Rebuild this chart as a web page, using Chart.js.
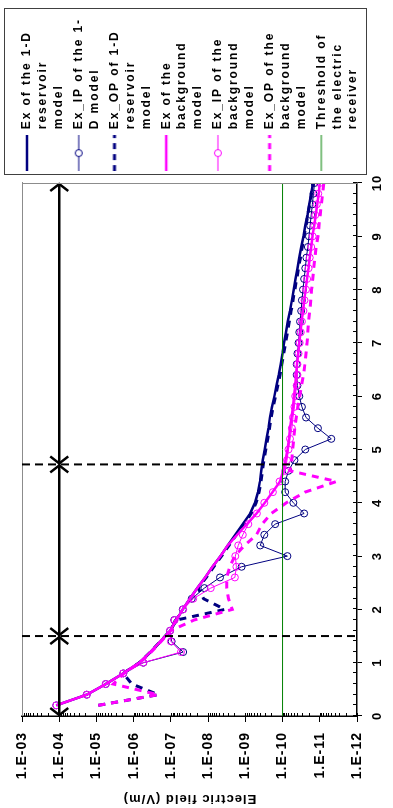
<!DOCTYPE html>
<html>
<head>
<meta charset="utf-8">
<script src="https://cdn.jsdelivr.net/npm/chart.js@4.4.1/dist/chart.umd.min.js"></script>
<style>
  html, body { margin:0; padding:0; background:#fff; overflow:hidden; width:393px; height:808px; }
  #wrap { position:absolute; left:0; top:0; width:808px; height:393px; transform-origin:0 0; transform: translate(0px, 808px) rotate(-90deg); }
</style>
</head>
<body>
<div id="wrap"><canvas id="c" width="808" height="393"></canvas></div>
<script>
// ---------- data ----------
const OFFSETS = [0.2,0.4,0.6,0.8,1.0,1.2,1.4,1.6,1.8,2.0,2.2,2.4,2.6,2.8,3.0,3.2,3.4,3.6,3.8,4.0,4.2,4.4,4.6,4.8,5.0,5.2,5.4,5.6,5.8,6.0,6.2,6.4,6.6,6.8,7.0,7.2,7.4,7.6,7.8,8.0,8.2,8.4,8.6,8.8,9.0,9.2,9.4,9.6,9.8,10.0];

const EX_1D = [1.2e-4,1.82e-5,5.62e-6,1.9e-6,7.08e-7,3.55e-7,1.9e-7,1.05e-7,7.08e-8,4.79e-8,3.09e-8,1.95e-8,1.2e-8,7.59e-9,4.68e-9,2.95e-9,1.86e-9,1.17e-9,7.41e-10,5.5e-10,4.57e-10,4.07e-10,3.72e-10,3.39e-10,3.02e-10,2.69e-10,2.4e-10,2.19e-10,1.91e-10,1.66e-10,1.45e-10,1.26e-10,1.12e-10,1.0e-10,9.12e-11,8.13e-11,7.24e-11,6.31e-11,5.62e-11,5.01e-11,4.47e-11,3.98e-11,3.55e-11,3.16e-11,2.75e-11,2.45e-11,2.14e-11,1.91e-11,1.7e-11,1.51e-11];

const EX_IP_1D = [1.2e-4,1.82e-5,5.62e-6,1.9e-6,5.5e-7,4.68e-8,9.55e-8,1.05e-7,8.13e-8,4.79e-8,2.75e-8,1.26e-8,4.79e-9,1.26e-9,7.41e-11,3.98e-10,3.09e-10,1.58e-10,2.63e-11,5.13e-11,8.51e-11,8.51e-11,6.92e-11,4.79e-11,2.45e-11,4.9e-12,1.12e-11,2.34e-11,3.02e-11,3.55e-11,3.98e-11,4.17e-11,4.17e-11,3.98e-11,3.72e-11,3.55e-11,3.39e-11,3.16e-11,3.02e-11,2.82e-11,2.63e-11,2.45e-11,2.29e-11,2.09e-11,1.95e-11,1.82e-11,1.7e-11,1.58e-11,1.48e-11,1.38e-11];

const EX_OP_1D = [8.91e-6,2.19e-7,1.12e-6,1.9e-6,7.08e-7,3.55e-7,1.9e-7,1.05e-7,7.08e-8,3.55e-9,1.32e-8,1.86e-8,1.12e-8,7.08e-9,4.37e-9,2.75e-9,1.74e-9,1.1e-9,6.92e-10,5.13e-10,4.27e-10,3.8e-10,3.47e-10,3.16e-10,2.82e-10,2.51e-10,2.24e-10,2.04e-10,1.78e-10,1.55e-10,1.35e-10,1.17e-10,1.05e-10,9.33e-11,8.32e-11,7.41e-11,6.61e-11,5.89e-11,5.25e-11,4.68e-11,4.17e-11,3.72e-11,3.31e-11,2.95e-11,2.63e-11,2.34e-11,2.09e-11,1.86e-11,1.66e-11,1.48e-11];

const EX_BG = [1.2e-4,1.82e-5,5.62e-6,1.9e-6,7.08e-7,3.55e-7,1.9e-7,1.05e-7,7.08e-8,4.79e-8,3.09e-8,1.95e-8,1.2e-8,7.59e-9,4.68e-9,2.95e-9,1.66e-9,9.12e-10,5.01e-10,3.02e-10,1.86e-10,1.17e-10,9.55e-11,8.32e-11,7.41e-11,6.76e-11,6.31e-11,5.75e-11,5.25e-11,4.9e-11,4.57e-11,4.37e-11,4.07e-11,3.8e-11,3.55e-11,3.31e-11,3.09e-11,2.82e-11,2.63e-11,2.4e-11,2.19e-11,2.0e-11,1.86e-11,1.7e-11,1.58e-11,1.41e-11,1.29e-11,1.17e-11,1.07e-11,1.0e-11];

const EX_IP_BG = [1.2e-4,1.82e-5,5.62e-6,1.9e-6,5.5e-7,5.37e-8,1.0e-7,1.05e-7,7.94e-8,4.68e-8,2.51e-8,8.51e-9,1.91e-9,1.74e-9,1.86e-9,1.55e-9,1.17e-9,8.32e-10,4.9e-10,3.09e-10,1.82e-10,1.2e-10,8.51e-11,7.59e-11,6.92e-11,6.31e-11,5.62e-11,5.25e-11,4.79e-11,4.57e-11,4.17e-11,3.98e-11,3.98e-11,3.72e-11,3.47e-11,3.24e-11,3.02e-11,2.75e-11,2.57e-11,2.34e-11,2.19e-11,2.0e-11,1.86e-11,1.7e-11,1.55e-11,1.41e-11,1.32e-11,1.2e-11,1.1e-11,1.0e-11];

const EX_OP_BG = [8.91e-6,2.19e-7,3.55e-6,1.82e-6,6.76e-7,3.39e-7,1.82e-7,1.02e-7,2.4e-8,2.24e-9,2.82e-9,3.16e-9,3.16e-9,2.63e-9,1.91e-9,1.05e-9,5.01e-10,3.55e-10,2.0e-10,7.94e-11,2.51e-11,3.55e-12,6.31e-11,5.62e-11,5.37e-11,5.01e-11,4.68e-11,4.27e-11,3.89e-11,3.47e-11,3.09e-11,2.75e-11,2.51e-11,2.34e-11,2.19e-11,2.09e-11,2.0e-11,1.86e-11,1.74e-11,1.66e-11,1.55e-11,1.45e-11,1.35e-11,1.26e-11,1.12e-11,1.05e-11,9.77e-12,9.12e-12,8.32e-12,7.76e-12];

const THRESHOLD = 1e-10;
const X_RANGE = [0, 10];
const X_TICKS = [0,1,2,3,4,5,6,7,8,9,10];
const X_TICK_LABELS = ['0','1','2','3','4','5','6','7','8','9','10'];
const Y_TICKS = [1e-12,1e-11,1e-10,1e-9,1e-8,1e-7,1e-6,1e-5,1e-4,1e-3];
const Y_TICK_LABELS = ['1.E-12','1.E-11','1.E-10','1.E-09','1.E-08','1.E-07','1.E-06','1.E-05','1.E-04','1.E-03'];
const Y_TITLE = 'Electric field (V/m)';

const DIVIDERS = [1.5, 4.72];
const ARROW_LEVEL = 1e-4;
const ARROW_SPANS = [[0, 1.5], [1.5, 4.72], [4.72, 10]];

const LEGEND_TEXT = [
  ['Ex of the 1-D', 'reservoir', 'model'],
  ['Ex_IP of the 1-', 'D model'],
  ['Ex_OP of 1-D', 'reservoir', 'model'],
  ['Ex of the', 'background', 'model'],
  ['Ex_IP of the', 'background', 'model'],
  ['Ex_OP of the', 'background', 'model'],
  ['Threshold of', 'the electric', 'receiver']
];

// ---------- styles ----------
const NAVY = '#000080', MAG = '#FF00FF', GREEN = '#008000';
const FONT = "'Liberation Sans', Arial, sans-serif";

function pts(vals) { return OFFSETS.map((x, i) => ({x: x, y: vals[i]})); }

function series(label, vals, color, kind) {
  const d = { label: label, data: pts(vals), borderColor: color, backgroundColor: color, tension: 0, fill: false,
    pointRadius: 0, borderWidth: 2.5 };
  if (kind === 'ip') { d.borderWidth = 1; d.pointRadius = 3.5; d.pointBorderWidth = 1; d.pointBorderColor = color; d.pointBackgroundColor = 'rgba(0,0,0,0)'; }
  if (kind === 'op') { d.borderWidth = 3; d.borderDash = [7, 6]; }
  d._kind = kind;
  return d;
}

const datasets = [
  series(LEGEND_TEXT[0].join(' '), EX_1D, NAVY, 'solid'),
  series(LEGEND_TEXT[1].join(' '), EX_IP_1D, NAVY, 'ip'),
  series(LEGEND_TEXT[2].join(' '), EX_OP_1D, NAVY, 'op'),
  series(LEGEND_TEXT[3].join(' '), EX_BG, MAG, 'solid'),
  series(LEGEND_TEXT[4].join(' '), EX_IP_BG, MAG, 'ip'),
  series(LEGEND_TEXT[5].join(' '), EX_OP_BG, MAG, 'op'),
  { label: LEGEND_TEXT[6].join(' '), data: [{x: X_RANGE[0], y: THRESHOLD}, {x: X_RANGE[1], y: THRESHOLD}],
    borderColor: GREEN, backgroundColor: GREEN, borderWidth: 1, pointRadius: 0, _kind: 'thin' }
];
DIVIDERS.forEach(d => datasets.push({ label: '_div', data: [{x: d, y: Y_TICKS[Y_TICKS.length-1]}, {x: d, y: Y_TICKS[0]}],
  borderColor: '#000', borderWidth: 2, borderDash: [8, 5], pointRadius: 0 }));
ARROW_SPANS.forEach(s => datasets.push({ label: '_arrow', data: [{x: s[0], y: ARROW_LEVEL}, {x: s[1], y: ARROW_LEVEL}],
  borderColor: '#000', borderWidth: 2.5, pointRadius: 0 }));
// later series drawn on top (spreadsheet order)
datasets.forEach((d, i) => { d.order = -i; });

const SYMBOL_W = 36;
function legendSymbol(kind, color) {
  const c = document.createElement('canvas');
  c.width = SYMBOL_W; c.height = 12;
  const g = c.getContext('2d');
  g.strokeStyle = color;
  g.lineWidth = kind === 'solid' ? 2.5 : (kind === 'op' ? 3 : 1);
  if (kind === 'op') g.setLineDash([6, 5]);
  g.beginPath(); g.moveTo(0, 6); g.lineTo(SYMBOL_W, 6); g.stroke();
  if (kind === 'ip') {
    g.setLineDash([]);
    g.beginPath(); g.arc(SYMBOL_W / 2, 6, 3.5, 0, Math.PI * 2);
    g.fillStyle = '#fff'; g.fill(); g.stroke();
  }
  return c;
}

// ---------- plugins ----------
const LEGEND_SPACING = '1.9px';
const spacingPlugin = {
  id: 'spacing',
  beforeLayout(chart) {
    chart.ctx.letterSpacing = '1px';
    const lg = chart.legend;
    if (lg && !lg.__patched) {
      lg.__patched = true;
      const f = lg.fit, d = lg.draw;
      lg.fit = function () { const c = this.ctx, o = c.letterSpacing; c.letterSpacing = LEGEND_SPACING; f.apply(this, arguments); c.letterSpacing = o; };
      lg.draw = function () { const c = this.ctx, o = c.letterSpacing; c.letterSpacing = LEGEND_SPACING; d.apply(this, arguments); c.letterSpacing = o; };
    }
  },
  beforeDraw(chart) {
    // let the offset-axis labels spill below the (short) axis box
    const xs = chart.scales.x;
    if (xs) xs._computeLabelArea = function () { return undefined; };
  }
};

const decorPlugin = {
  id: 'decor',
  afterDatasetsDraw(chart) {
    const ctx = chart.ctx, xs = chart.scales.x, ys = chart.scales.y;
    ctx.save();
    ctx.strokeStyle = '#000'; ctx.lineWidth = 2.5; ctx.lineCap = 'butt'; ctx.lineJoin = 'miter';
    const yy = ys.getPixelForValue(ARROW_LEVEL);
    ARROW_SPANS.forEach(s => {
      const x1 = xs.getPixelForValue(s[0]) + 1, x2 = xs.getPixelForValue(s[1]) - 1;
      ctx.beginPath(); ctx.moveTo(x1 + 7, yy - 9); ctx.lineTo(x1, yy); ctx.lineTo(x1 + 7, yy + 9); ctx.stroke();
      ctx.beginPath(); ctx.moveTo(x2 - 7, yy - 9); ctx.lineTo(x2, yy); ctx.lineTo(x2 - 7, yy + 9); ctx.stroke();
    });
    ctx.restore();
  },
  afterDraw(chart) {
    const ctx = chart.ctx, xs = chart.scales.x, ys = chart.scales.y, a = chart.chartArea;
    ctx.save();
    // plot frame on the open right side
    ctx.strokeStyle = '#8c8c8c'; ctx.lineWidth = 1;
    ctx.beginPath(); ctx.moveTo(Math.round(a.right) - 0.5, a.top); ctx.lineTo(Math.round(a.right) - 0.5, a.bottom); ctx.stroke();
    ctx.strokeStyle = '#000'; ctx.lineWidth = 1;
    // inside ticks on log axis (majors + minors)
    for (let k = -12; k < -3; k++) {
      for (let m = 1; m <= 9; m++) {
        const p = Math.round(ys.getPixelForValue(m * Math.pow(10, k))) + 0.5;
        ctx.beginPath(); ctx.moveTo(a.left, p); ctx.lineTo(a.left + 3, p); ctx.stroke();
      }
    }
    // inside ticks on offset axis every 0.2
    for (let i = 0; i <= 50; i++) {
      const p = Math.round(xs.getPixelForValue(i * 0.2)) + 0.5;
      ctx.beginPath(); ctx.moveTo(p, a.bottom); ctx.lineTo(p, a.bottom - 4); ctx.stroke();
    }
    // legend frame
    const lg = chart.legend;
    ctx.strokeStyle = '#404040'; ctx.lineWidth = 1;
    ctx.strokeRect(Math.round(lg.left) + 0.5, Math.round(lg.top) + 0.5, Math.round(lg.width) - 1, Math.round(lg.height) - 1);
    ctx.restore();
  }
};

// ---------- chart ----------
new Chart(document.getElementById('c'), {
  type: 'line',
  data: { datasets: datasets },
  options: {
    responsive: false,
    animation: false,
    events: [],
    layout: { padding: { top: 4, bottom: 26, right: 8, left: 0 } },
    plugins: {
      tooltip: { enabled: false },
      legend: {
        position: 'right',
        align: 'end',
        labels: {
          usePointStyle: true,
          pointStyleWidth: SYMBOL_W,
          padding: 4,
          color: '#000',
          font: { family: FONT, size: 12, weight: 'bold', lineHeight: 1.325 },
          generateLabels(chart) {
            return LEGEND_TEXT.map((t, i) => {
              const ds = chart.data.datasets[i];
              return { text: t, datasetIndex: i, hidden: false, fontColor: '#000',
                fillStyle: ds.borderColor, strokeStyle: ds.borderColor, lineWidth: 0,
                pointStyle: legendSymbol(ds._kind, ds.borderColor) };
            });
          }
        }
      }
    },
    scales: {
      x: {
        type: 'linear', position: 'bottom', min: X_RANGE[0], max: X_RANGE[1],
        afterBuildTicks(s) { s.ticks = X_TICKS.map(v => ({value: v})); },
        ticks: { callback: (v, i) => X_TICK_LABELS[i], color: '#000', padding: 8, maxRotation: 0, autoSkip: false,
          font: { family: FONT, size: 13, weight: 'bold' } },
        grid: { drawOnChartArea: false, tickLength: 5, color: '#000', tickColor: '#000', tickWidth: 1 },
        border: { color: '#000', width: 1.5 },
        afterFit(s) { s.height = 10; }
      },
      y: {
        type: 'logarithmic', position: 'left', min: Y_TICKS[0], max: Y_TICKS[Y_TICKS.length - 1],
        afterBuildTicks(s) { s.ticks = Y_TICKS.map(v => ({value: v})); },
        ticks: { callback: (v, i) => Y_TICK_LABELS[i], color: '#000', padding: 10, autoSkip: false,
          font: { family: FONT, size: 14, weight: 'bold' } },
        grid: { drawOnChartArea: false, tickLength: 6, color: '#000', tickColor: '#000', tickWidth: 1 },
        border: { color: '#000', width: 1.5 },
        title: { display: true, text: Y_TITLE, color: '#000', padding: { top: 2, bottom: 0 },
          font: { family: FONT, size: 13, weight: 'bold' } },
        afterFit(s) { s.width = 92; }
      },
      xTop: {
        type: 'linear', position: 'top', display: true,
        ticks: { display: false }, grid: { display: false, drawTicks: false },
        border: { display: true, color: '#8c8c8c', width: 1 },
        afterFit(s) { s.height = 18; }
      },
      yRight: {
        type: 'linear', position: 'right', display: false,
        afterFit(s) {
          const lw = s.chart.legend ? s.chart.legend.width : 170;
          s.width = Math.max(0, s.chart.width - 8 - lw - 625);
        }
      }
    }
  },
  plugins: [spacingPlugin, decorPlugin]
});
</script>
</body>
</html>
